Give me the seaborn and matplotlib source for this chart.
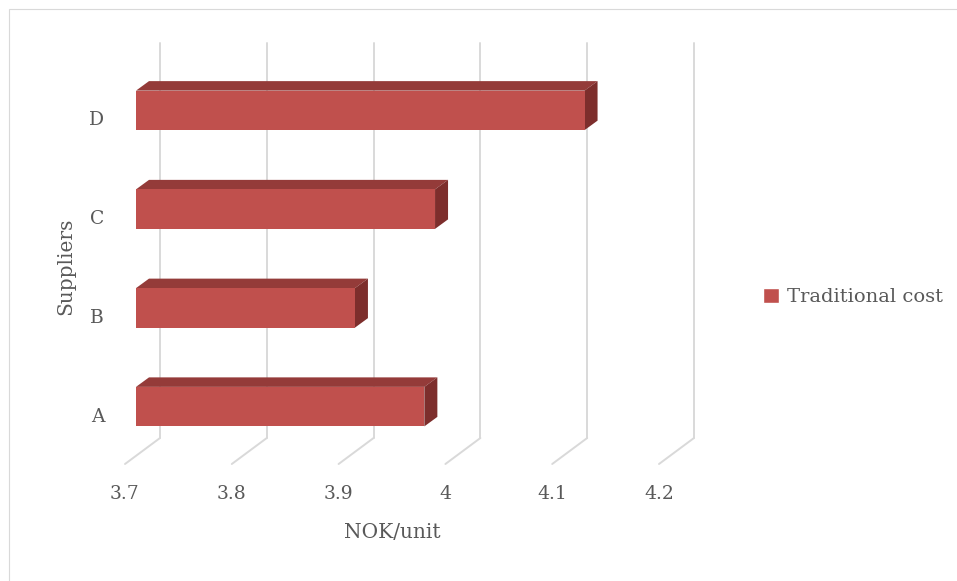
import numpy as np
import matplotlib
matplotlib.use("Agg")
import matplotlib.pyplot as plt
import seaborn as sns
from matplotlib.patches import Polygon, Rectangle, Patch
from matplotlib.transforms import IdentityTransform, offset_copy, ScaledTranslation

# Data
suppliers = ["D", "C", "B", "A"]
cost = [4.12, 3.98, 3.905, 3.97]
ticks = [3.7, 3.8, 3.9, 4.0, 4.1, 4.2]
tick_labels = ["3.7", "3.8", "3.9", "4", "4.1", "4.2"]
series_name = "Traditional cost"

FRONT = "#C0504D"
TOP = "#943B39"
SIDE = "#7D2E2C"
GRID = "#D9D9D9"
TEXT = "#595959"

sns.set_style("white")
plt.rcParams["font.family"] = ["DejaVu Serif"]
plt.rcParams["font.size"] = 13

fig = plt.figure(figsize=(9.57, 5.81), dpi=100)
W, H = 957, 581
# front plane of the bars (pixels): left 136, top 61, bottom 456, 0.1 = 106.8 px
x_lo, x_hi = 3.7, 4.25
ax = fig.add_axes([136 / W, 1 - 456 / H, (x_hi - x_lo) * 1068 / W, 395 / H])

bar_h = 0.4
sns.barplot(x=cost, y=suppliers, order=suppliers, orient="h", color=FRONT,
            saturation=1, width=bar_h, linewidth=0, errorbar=None, ax=ax, zorder=3)
ax.set_xlim(x_lo, x_hi)
ax.set_ylim(len(suppliers) - 0.5, -0.5)
for s in ax.spines.values():
    s.set_visible(False)

# depth offsets in pixels (display y up)
wall = (24, 18)
floor = (-11, -8)
depth = (13, 9.5)

# back wall gridlines and floor lines
wall_tf = offset_copy(ax.transData, fig=fig, x=wall[0], y=wall[1], units="dots")
for t in ticks:
    ax.plot([t, t], [-0.5, len(suppliers) - 0.5], color=GRID, lw=1.4,
            transform=wall_tf, clip_on=False, zorder=1)
    p = ax.transData.transform((t, len(suppliers) - 0.5))
    ax.plot([p[0] + wall[0], p[0] + floor[0]], [p[1] + wall[1], p[1] + floor[1]],
            color=GRID, lw=1.4, transform=IdentityTransform(), clip_on=False, zorder=1)

# 3D faces of the bars
for i, v in enumerate(cost):
    tl = ax.transData.transform((x_lo, i - bar_h / 2))
    tr = ax.transData.transform((v, i - bar_h / 2))
    br = ax.transData.transform((v, i + bar_h / 2))
    d = np.array(depth)
    ax.add_patch(Polygon([tl, tr, tr + d, tl + d], closed=True, facecolor=TOP,
                         edgecolor="none", transform=IdentityTransform(),
                         clip_on=False, zorder=2))
    ax.add_patch(Polygon([tr, tr + d, br + d, br], closed=True, facecolor=SIDE,
                         edgecolor="none", transform=IdentityTransform(),
                         clip_on=False, zorder=2))

# tick labels on the front floor edge
ax.set_xticks(ticks)
ax.set_xticklabels(tick_labels)
ax.set_yticks(range(len(suppliers)))
ax.set_yticklabels(suppliers)
ax.tick_params(axis="both", length=0, colors=TEXT, labelsize=13.5)
ax.tick_params(axis="x", pad=15)
ax.tick_params(axis="y", pad=15)
shift = ScaledTranslation(floor[0] / 100, floor[1] / 100, fig.dpi_scale_trans)
for lab in ax.get_xticklabels() + ax.get_yticklabels():
    lab.set_transform(lab.get_transform() + shift)
ax.set_xlabel("")
ax.set_ylabel("")

ax.text(np.mean(ticks), len(suppliers) - 0.5, "NOK/unit", color=TEXT, fontsize=14.5,
        ha="center", va="center",
        transform=offset_copy(ax.transData, fig=fig, x=floor[0], y=-77, units="dots"))
ax.text(x_lo, (len(suppliers) - 1) / 2, "Suppliers", color=TEXT, fontsize=14.5,
        rotation=90, ha="center", va="center",
        transform=offset_copy(ax.transData, fig=fig, x=-70, y=floor[1], units="dots"))

fig.legend(handles=[Patch(facecolor=FRONT, label=series_name)], loc="center left",
           bbox_to_anchor=(763 / W, 1 - 297 / H), frameon=False, borderpad=0,
           borderaxespad=0, handlelength=0.8, handleheight=0.8, handletextpad=0.45,
           labelcolor=TEXT, fontsize=14)

# chart area border
fig.patches.append(Rectangle((8.5 / W, -0.1), 1.2, 1.1 - 8.5 / H, fill=False,
                             edgecolor=GRID, lw=0.8, transform=fig.transFigure))

fig.savefig("out.png", dpi=100)
